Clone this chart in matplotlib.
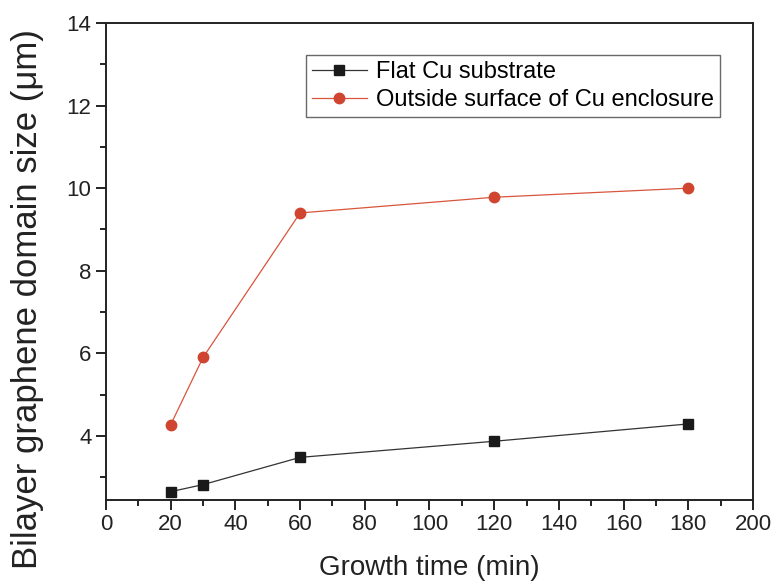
import matplotlib.pyplot as plt
from matplotlib.ticker import MultipleLocator

plt.rcParams['font.family'] = ['Liberation Sans', 'DejaVu Sans']

growth_time = [20, 30, 60, 120, 180]
flat_cu = [2.65, 2.82, 3.48, 3.87, 4.29]
outside_enclosure = [4.27, 5.9, 9.4, 9.78, 10.0]

fig = plt.figure(figsize=(7.77, 5.84), dpi=100)
ax = fig.add_axes([0.1364, 0.144, 0.8327, 0.8166])

ax.plot(growth_time, flat_cu, color='#333333', lw=0.9, marker='s', ms=7,
        mfc='#1a1a1a', mec='#1a1a1a', label='Flat Cu substrate')
ax.plot(growth_time, outside_enclosure, color='#d9553c', lw=0.9, marker='o', ms=7.5,
        mfc='#cf4530', mec='#cf4530', label='Outside surface of Cu enclosure')

ax.set_xlim(0, 200)
ax.set_ylim(2.45, 14)
ax.xaxis.set_major_locator(MultipleLocator(20))
ax.xaxis.set_minor_locator(MultipleLocator(10))
ax.yaxis.set_minor_locator(MultipleLocator(1))
ax.set_yticks([4, 6, 8, 10, 12, 14])

for s in ax.spines.values():
    s.set_linewidth(1.4)
    s.set_color('#222222')
ax.tick_params(which='major', direction='out', length=7, width=1.4, labelsize=16, colors='#222222')
ax.tick_params(which='minor', direction='out', length=4, width=1.4, colors='#222222')

ax.set_xlabel('Growth time (min)', fontsize=20, color='#222222', va='center')
ax.xaxis.set_label_coords(0.5, -0.1426)
ax.set_ylabel('Bilayer graphene domain size (\u03bcm)', fontsize=25, color='#222222', va='center')
ax.yaxis.set_label_coords(-0.1206, 0.4203)

leg = ax.legend(loc='upper right', bbox_to_anchor=(0.949, 0.933), fontsize=17, frameon=True,
                fancybox=False, edgecolor='#444444', handlelength=2.3, handletextpad=0.4,
                borderpad=0.25, labelspacing=0.25, borderaxespad=0)
leg.get_frame().set_linewidth(1.0)

fig.savefig('out.png', dpi=100)
